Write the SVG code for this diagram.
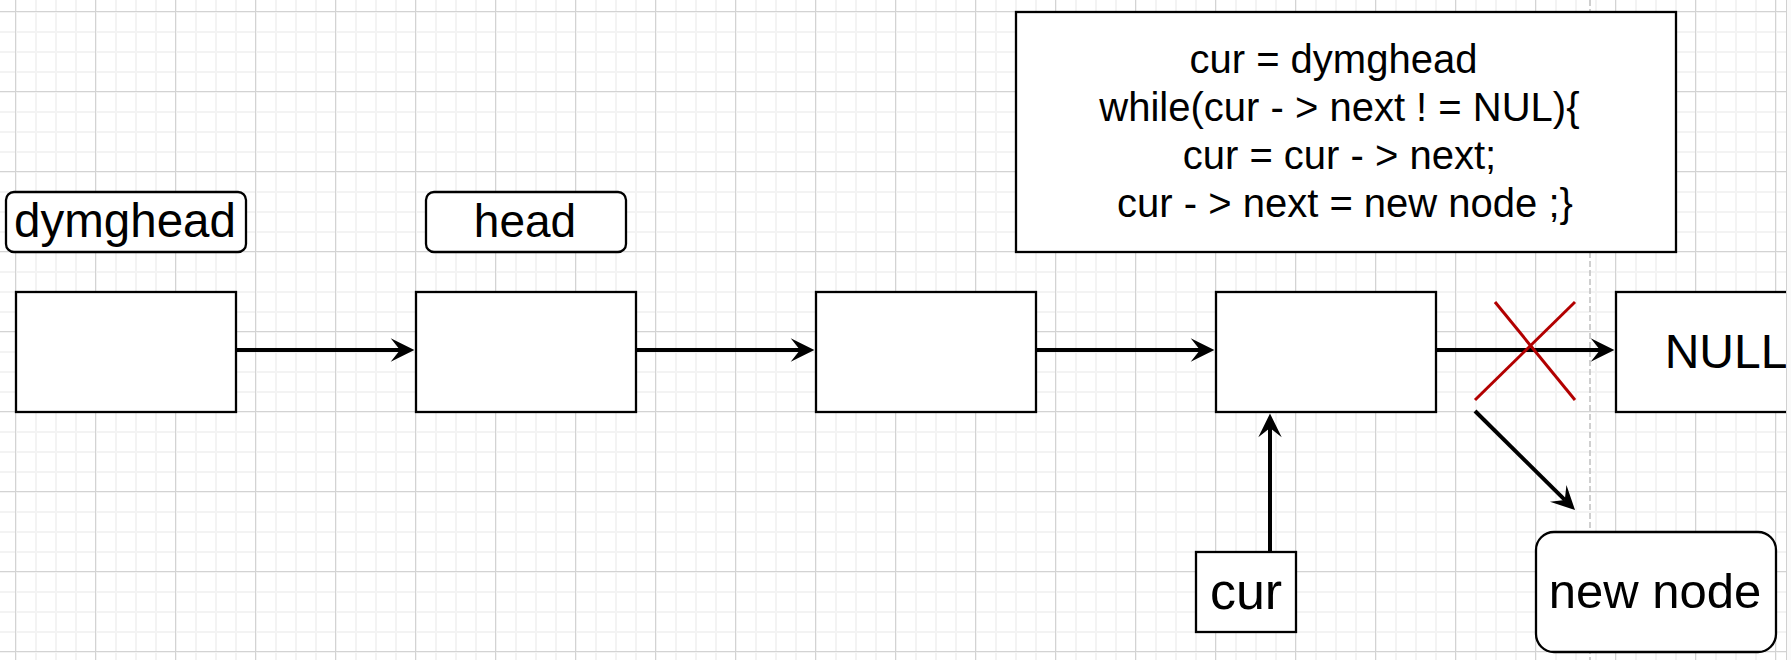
<svg xmlns="http://www.w3.org/2000/svg" width="1791" height="660" viewBox="0 0 1791 660">
<style>
.box{fill:#fff;stroke:#000;stroke-width:2.3}
.lbl{fill:#fff;stroke:#000;stroke-width:2.3}
.t{font-family:"Liberation Sans",Arial,sans-serif;fill:#000;text-anchor:middle}
.conn{stroke:#000;stroke-width:4;fill:none}
.cross{stroke:#b20000;stroke-width:3;fill:none}
</style>
<defs>
<pattern id="gminor" x="15" y="11" width="20" height="20" patternUnits="userSpaceOnUse">
<rect x="0" y="0" width="2" height="20" fill="#f3f3f3"/>
<rect x="0" y="0" width="20" height="2" fill="#f3f3f3"/>
</pattern>
<pattern id="gmajor" x="15" y="11" width="80" height="80" patternUnits="userSpaceOnUse">
<rect x="0" y="0" width="1" height="80" fill="#d3d3d3"/>
<rect x="0" y="0" width="80" height="1" fill="#d3d3d3"/>
</pattern>
<marker id="arr" markerUnits="userSpaceOnUse" viewBox="-10 -12 25 24" refX="0" refY="0" markerWidth="25" markerHeight="24" orient="auto" overflow="visible">
<path d="M14.4,0 L-9.3,-11.7 L0,0 L-9.3,11.7 Z" fill="#000"/>
</marker>
</defs>
<rect width="1791" height="660" fill="#fff"/>
<rect width="1791" height="660" fill="url(#gminor)"/>
<rect width="1791" height="660" fill="url(#gmajor)"/>
<line x1="1590" y1="0" x2="1590" y2="660" stroke="#c0c0c0" stroke-width="1.5" stroke-dasharray="6 3"/>

<g id="label-dymghead">
<rect class="lbl" x="6" y="192" width="240" height="60" rx="8"/>
<text class="t" x="125" y="237" font-size="47.5">dymghead</text>
</g>
<g id="label-head">
<rect class="lbl" x="426" y="192" width="200" height="60" rx="8"/>
<text class="t" x="525" y="237" font-size="46">head</text>
</g>
<g id="code">
<rect class="box" x="1016" y="12" width="660" height="240"/>
<text class="t" font-size="40">
<tspan x="1339" y="73">cur = dymghead</tspan>
<tspan x="1345" y="121">while(cur - &gt; next ! = NUL){</tspan>
<tspan x="1345" y="169">cur = cur - &gt; next;</tspan>
<tspan x="1345" y="217">cur - &gt; next = new node ;}</tspan>
</text>
</g>
<g id="node1"><rect class="box" x="16" y="292" width="220" height="120"/></g>
<g id="node2"><rect class="box" x="416" y="292" width="220" height="120"/></g>
<g id="node3"><rect class="box" x="816" y="292" width="220" height="120"/></g>
<g id="node4"><rect class="box" x="1216" y="292" width="220" height="120"/></g>
<g id="null">
<rect class="box" x="1616" y="292" width="220" height="120"/>
<text class="t" x="1726" y="368" font-size="48">NULL</text>
</g>
<g id="cur">
<rect class="box" x="1196" y="552" width="100" height="80"/>
<text class="t" x="1246" y="609" font-size="52">cur</text>
</g>
<g id="newnode">
<rect class="box" x="1536" y="532" width="240" height="120" rx="18"/>
<text class="t" x="1655" y="608" font-size="49">new node</text>
</g>

<g id="connectors">
<line class="conn" x1="237" y1="350" x2="400" y2="350" marker-end="url(#arr)"/>
<line class="conn" x1="637" y1="350" x2="800" y2="350" marker-end="url(#arr)"/>
<line class="conn" x1="1037" y1="350" x2="1200" y2="350" marker-end="url(#arr)"/>
<line class="conn" x1="1437" y1="350" x2="1600" y2="350" marker-end="url(#arr)"/>
<line class="conn" x1="1270" y1="552" x2="1270" y2="428" marker-end="url(#arr)"/>
<line class="conn" x1="1475" y1="411" x2="1564.8" y2="499.9" marker-end="url(#arr)"/>
</g>
<g id="cross">
<line class="cross" x1="1495" y1="302" x2="1575" y2="400"/>
<line class="cross" x1="1475" y1="400" x2="1575" y2="302"/>
</g>
<rect x="1787" y="0" width="4" height="660" fill="#fafafa"/>
<line x1="1786.5" y1="0" x2="1786.5" y2="660" stroke="#d0d0d0" stroke-width="1"/>
</svg>
